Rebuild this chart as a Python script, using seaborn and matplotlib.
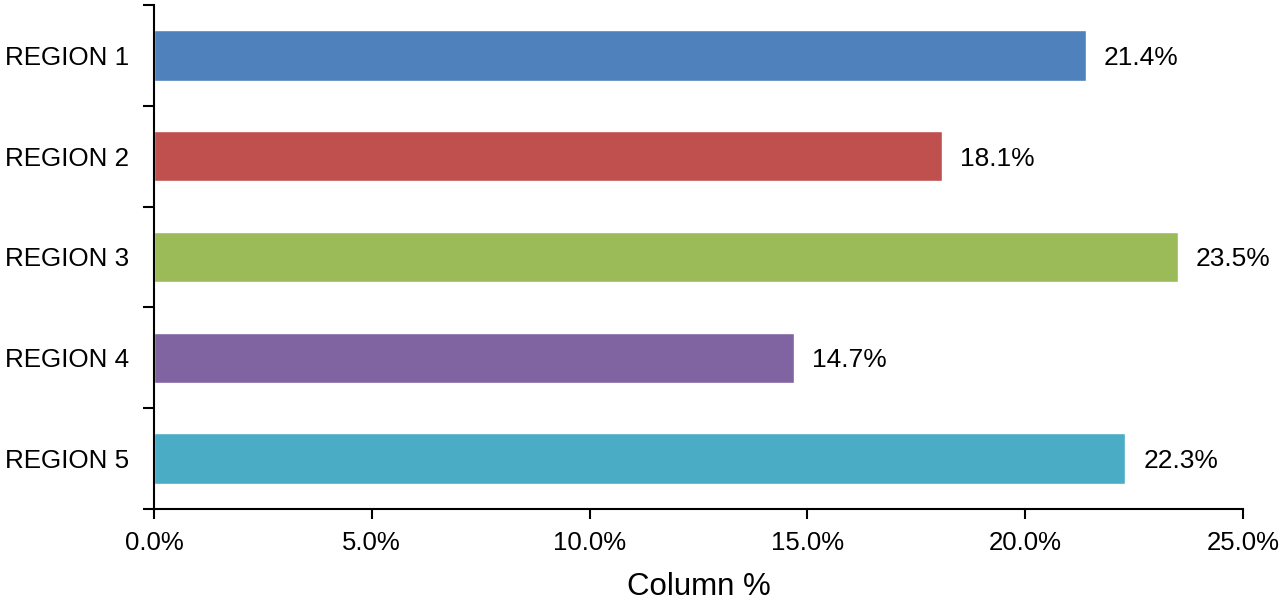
import matplotlib
matplotlib.use("Agg")
import matplotlib.pyplot as plt
import seaborn as sns
import pandas as pd
import numpy as np
from matplotlib.ticker import FixedLocator, FuncFormatter

regions = ["REGION 1", "REGION 2", "REGION 3", "REGION 4", "REGION 5"]
column_pct = [21.4, 18.1, 23.5, 14.7, 22.3]
bar_colors = ["#4F81BD", "#C0504D", "#9BBB59", "#8064A2", "#4BACC6"]
x_ticks = [0, 5, 10, 15, 20, 25]

df = pd.DataFrame({"region": regions, "pct": column_pct})

sns.set_style("white")
plt.rcParams["font.family"] = ["Liberation Sans", "DejaVu Sans"]
plt.rcParams["text.color"] = "black"
plt.rcParams["xtick.color"] = "black"
plt.rcParams["ytick.color"] = "black"
plt.rcParams["axes.labelcolor"] = "black"

fig = plt.figure(figsize=(12.81, 6.01), dpi=100)
ax = fig.add_axes([0.1202, 0.1531, 0.8501, 0.8386])

sns.barplot(data=df, x="pct", y="region", hue="region", palette=bar_colors,
            width=0.5, legend=False, ax=ax, saturation=1)

# value labels at the end of each bar
for i, v in enumerate(column_pct):
    ax.text(v + 0.41, i, f"{v:.1f}%", va="center_baseline", ha="left",
            fontsize=19, color="black")

ax.set_xlim(0, 25)
ax.set_ylim(4.5, -0.5)
ax.set_xticks(x_ticks)
ax.xaxis.set_major_formatter(FuncFormatter(lambda x, p: f"{x:.1f}%"))
ax.yaxis.set_minor_locator(FixedLocator(np.arange(-0.5, 5, 1)))
ax.tick_params(axis="y", which="major", length=0, labelsize=18.7, pad=18)
ax.tick_params(axis="y", which="minor", length=8, width=1.5, color="black", left=True)
ax.tick_params(axis="x", length=7, width=1.5, color="black", labelsize=18.5, pad=9, bottom=True)

sns.despine(ax=ax, top=True, right=True)
for s in ["left", "bottom"]:
    ax.spines[s].set_color("black")
    ax.spines[s].set_linewidth(1.5)

ax.set_ylabel("")
ax.set_xlabel("Column %", fontsize=22.5, labelpad=12)

fig.savefig("out.png", dpi=100)
